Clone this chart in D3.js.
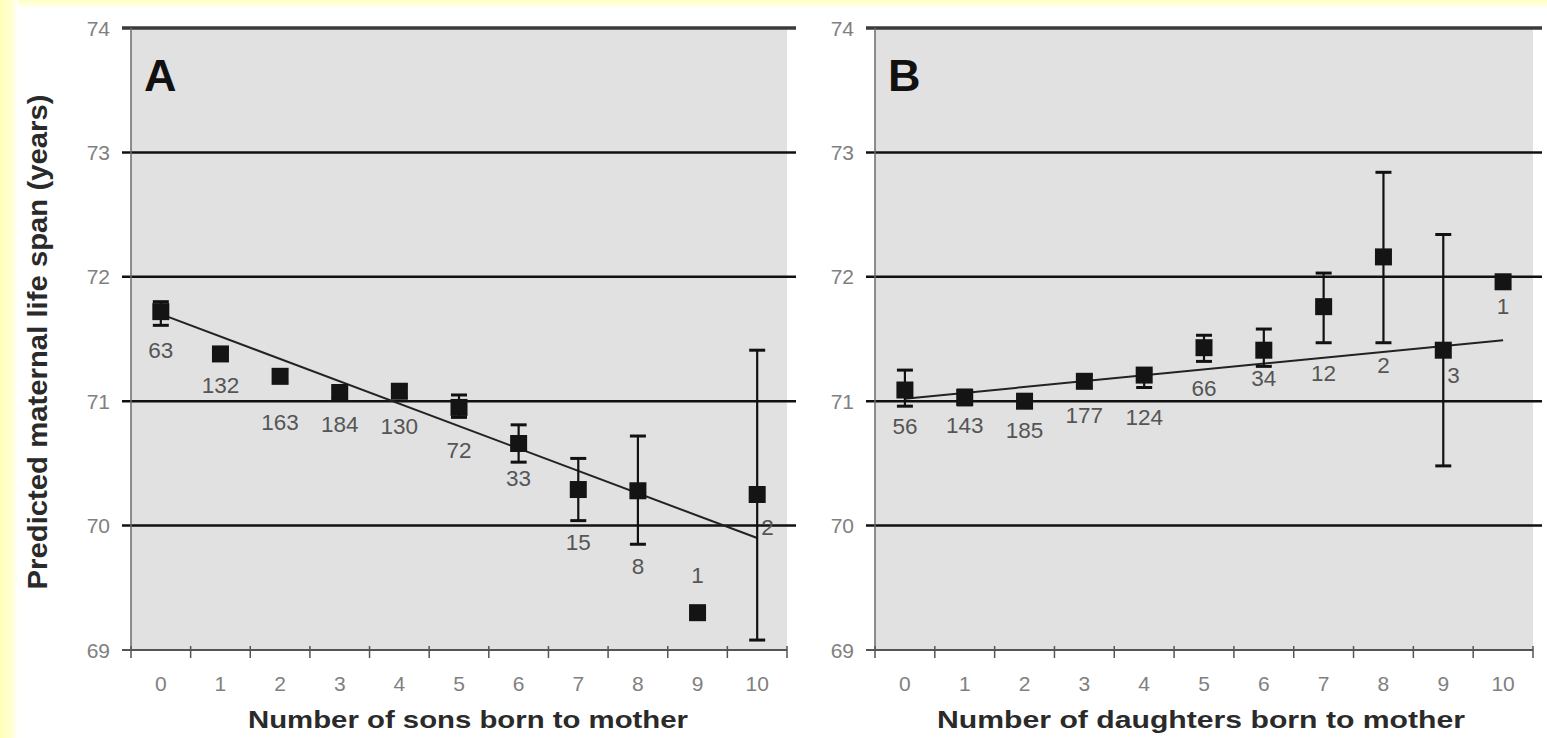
<!DOCTYPE html>
<html>
<head>
<meta charset="UTF-8">
<title>Predicted maternal life span by sons and daughters</title>
<style>
  body { margin: 0; background: #fff; }
  svg { display: block; font-family: "Liberation Sans", Arial, sans-serif; }
  .tick-label { fill: #808080; font-size: 21px; }
  .count { fill: #555; font-size: 22.5px; }
  .axis-title { fill: #2a2a2a; font-weight: bold; }
  .panel-letter { fill: #111; font-size: 45px; font-weight: bold; }
</style>
</head>
<body>
<svg id="chart"></svg>
<script src="https://d3js.org/d3.v7.min.js"></script>
<script>
// categories (number of children of the given sex)
var categories = ["0", "1", "2", "3", "4", "5", "6", "7", "8", "9", "10"];
var yTicks = [69, 70, 71, 72, 73, 74];

// panel A: sons
var sonsMean = [71.72, 71.38, 71.20, 71.07, 71.08, 70.95, 70.66, 70.29, 70.28, 69.30, 70.25];
var sonsLow  = [71.61, 71.33, 71.15, 71.03, 71.03, 70.87, 70.51, 70.04, 69.85, null, 69.08];
var sonsHigh = [71.80, 71.43, 71.25, 71.11, 71.13, 71.05, 70.81, 70.54, 70.72, null, 71.41];
var sonsN    = [63, 132, 163, 184, 130, 72, 33, 15, 8, 1, 2];
var sonsNAt  = [71.41, 71.13, 70.83, 70.82, 70.80, 70.61, 70.38, 69.87, 69.68, 69.60, 69.99]; // where the count sits (years)
var sonsFit  = [71.70, 69.90]; // regression line at 0 and 10

// panel B: daughters
var daughtersMean = [71.09, 71.03, 71.00, 71.16, 71.21, 71.43, 71.41, 71.76, 72.16, 71.41, 71.96];
var daughtersLow  = [70.96, 70.97, 70.95, 71.11, 71.11, 71.32, 71.28, 71.47, 71.47, 70.48, null];
var daughtersHigh = [71.25, 71.09, 71.05, 71.21, 71.25, 71.53, 71.58, 72.03, 72.84, 72.34, null];
var daughtersN    = [56, 143, 185, 177, 124, 66, 34, 12, 2, 3, 1];
var daughtersNAt  = [70.80, 70.81, 70.77, 70.89, 70.87, 71.11, 71.19, 71.23, 71.29, 71.21, 71.77];
var daughtersFit  = [71.02, 71.49];

var W = 1547, H = 738;
var svg = d3.select("#chart").attr("width", W).attr("height", H);

// yellow page edge of the original scan
var defs = svg.append("defs");
var gl = defs.append("linearGradient").attr("id", "edgeL");
gl.append("stop").attr("offset", "0").attr("stop-color", "#ffffb8");
gl.append("stop").attr("offset", "0.6").attr("stop-color", "#ffffd0");
gl.append("stop").attr("offset", "1").attr("stop-color", "#fff");
var gt = defs.append("linearGradient").attr("id", "edgeT").attr("x2", 0).attr("y2", 1);
gt.append("stop").attr("offset", "0").attr("stop-color", "#ffffc0");
gt.append("stop").attr("offset", "1").attr("stop-color", "#fff");
svg.append("rect").attr("width", W).attr("height", 9).attr("fill", "url(#edgeT)");
svg.append("rect").attr("width", 18).attr("height", H).attr("fill", "url(#edgeL)");

var y = d3.scaleLinear().domain([69, 74]).range([650, 28]);

var panels = [
  {left: 131, right: 787, letter: "A", title: "Number of sons born to mother", titleLen: 440,
   mean: sonsMean, low: sonsLow, high: sonsHigh, n: sonsN, nAt: sonsNAt, fit: sonsFit, nRight: [10]},
  {left: 875, right: 1533, letter: "B", title: "Number of daughters born to mother", titleLen: 528,
   mean: daughtersMean, low: daughtersLow, high: daughtersHigh, n: daughtersN, nAt: daughtersNAt, fit: daughtersFit, nRight: [9]}
];

panels.forEach(function(p) {
  var g = svg.append("g");
  var x = d3.scaleBand().domain(categories).range([p.left, p.right]).padding(0);
  var cx = function(i) { return x(categories[i]) + x.bandwidth() / 2; };

  // plot area
  g.append("rect")
    .attr("x", p.left).attr("y", y(74))
    .attr("width", p.right - p.left).attr("height", y(69) - y(74))
    .attr("fill", "#e1e1e1");

  // horizontal grid lines (they carry the left tick marks)
  g.selectAll(".grid").data(yTicks.filter(function(t) { return t > 69; }))
    .enter().append("line")
    .attr("x1", p.left - 9).attr("x2", p.right + 9)
    .attr("y1", function(d) { return y(d); }).attr("y2", function(d) { return y(d); })
    .attr("stroke", function(d) { return d === 74 ? "#3a3a3a" : "#111"; })
    .attr("stroke-width", function(d) { return d === 74 ? 3.5 : 2.5; });

  // left axis line
  g.append("line")
    .attr("x1", p.left).attr("x2", p.left)
    .attr("y1", y(74)).attr("y2", y(69))
    .attr("stroke", "#6a6a6a").attr("stroke-width", 1.5);

  // bottom axis with ticks at band edges
  var axisB = d3.axisBottom(x).tickSize(0).tickFormat(function(d) { return d; });
  var ax = g.append("g").attr("transform", "translate(0," + y(69) + ")").call(axisB);
  ax.select(".domain").remove();
  ax.attr("font-size", null).attr("font-family", null);
  ax.selectAll("text").attr("class", "tick-label").attr("dy", null).attr("y", 41)
    .attr("fill", null);
  g.append("line")
    .attr("x1", p.left - 9).attr("x2", p.right)
    .attr("y1", y(69)).attr("y2", y(69))
    .attr("stroke", "#555").attr("stroke-width", 2);
  var edges = categories.map(function(c) { return x(c); }).concat([p.right]);
  g.selectAll(".xt").data(edges).enter().append("line")
    .attr("x1", function(d) { return d; }).attr("x2", function(d) { return d; })
    .attr("y1", y(69) - 4).attr("y2", y(69) + 8)
    .attr("stroke", "#555").attr("stroke-width", 1.5);

  // y tick labels
  g.selectAll(".yl").data(yTicks).enter().append("text")
    .attr("class", "tick-label")
    .attr("x", p.left - 21).attr("y", function(d) { return y(d); })
    .attr("dy", "0.36em").attr("text-anchor", "end")
    .text(function(d) { return d; });

  // panel letter
  g.append("text").attr("class", "panel-letter")
    .attr("x", p.left + 13).attr("y", 91).text(p.letter);

  // regression line
  g.append("line")
    .attr("x1", cx(0)).attr("x2", cx(10))
    .attr("y1", y(p.fit[0])).attr("y2", y(p.fit[1]))
    .attr("stroke", "#222").attr("stroke-width", 2);

  var idx = d3.range(categories.length);

  // error bars
  var eb = g.selectAll(".eb").data(idx.filter(function(i) { return p.low[i] !== null; }))
    .enter().append("g").attr("stroke", "#111").attr("stroke-width", 2.2);
  eb.append("line")
    .attr("x1", cx).attr("x2", cx)
    .attr("y1", function(i) { return y(p.high[i]); }).attr("y2", function(i) { return y(p.low[i]); });
  eb.append("line")
    .attr("x1", function(i) { return cx(i) - 8; }).attr("x2", function(i) { return cx(i) + 8; })
    .attr("y1", function(i) { return y(p.high[i]); }).attr("y2", function(i) { return y(p.high[i]); })
    .attr("stroke-width", 3);
  eb.append("line")
    .attr("x1", function(i) { return cx(i) - 8; }).attr("x2", function(i) { return cx(i) + 8; })
    .attr("y1", function(i) { return y(p.low[i]); }).attr("y2", function(i) { return y(p.low[i]); })
    .attr("stroke-width", 3);

  // square markers
  var s = 17;
  g.selectAll(".pt").data(idx).enter().append("rect")
    .attr("x", function(i) { return cx(i) - s / 2; })
    .attr("y", function(i) { return y(p.mean[i]) - s / 2; })
    .attr("width", s).attr("height", s)
    .attr("fill", "#141414");

  // sample sizes
  g.selectAll(".cnt").data(idx).enter().append("text")
    .attr("class", "count")
    .attr("x", function(i) { return p.nRight.indexOf(i) >= 0 ? cx(i) + 4 : cx(i); })
    .attr("y", function(i) { return y(p.nAt[i]); })
    .attr("dy", "0.36em")
    .attr("text-anchor", function(i) { return p.nRight.indexOf(i) >= 0 ? "start" : "middle"; })
    .text(function(i) { return p.n[i]; });

  // x axis title
  g.append("text").attr("class", "axis-title")
    .attr("x", (p.left + p.right) / 2 + (p.letter === "A" ? 9 : -3)).attr("y", 728)
    .attr("text-anchor", "middle")
    .attr("font-size", 24)
    .attr("textLength", p.titleLen).attr("lengthAdjust", "spacingAndGlyphs")
    .text(p.title);
});

// y axis title
svg.append("text").attr("class", "axis-title")
  .attr("transform", "translate(47,342) rotate(-90)")
  .attr("text-anchor", "middle")
  .attr("font-size", 28)
  .attr("textLength", 495).attr("lengthAdjust", "spacingAndGlyphs")
  .text("Predicted maternal life span (years)");
</script>
</body>
</html>
